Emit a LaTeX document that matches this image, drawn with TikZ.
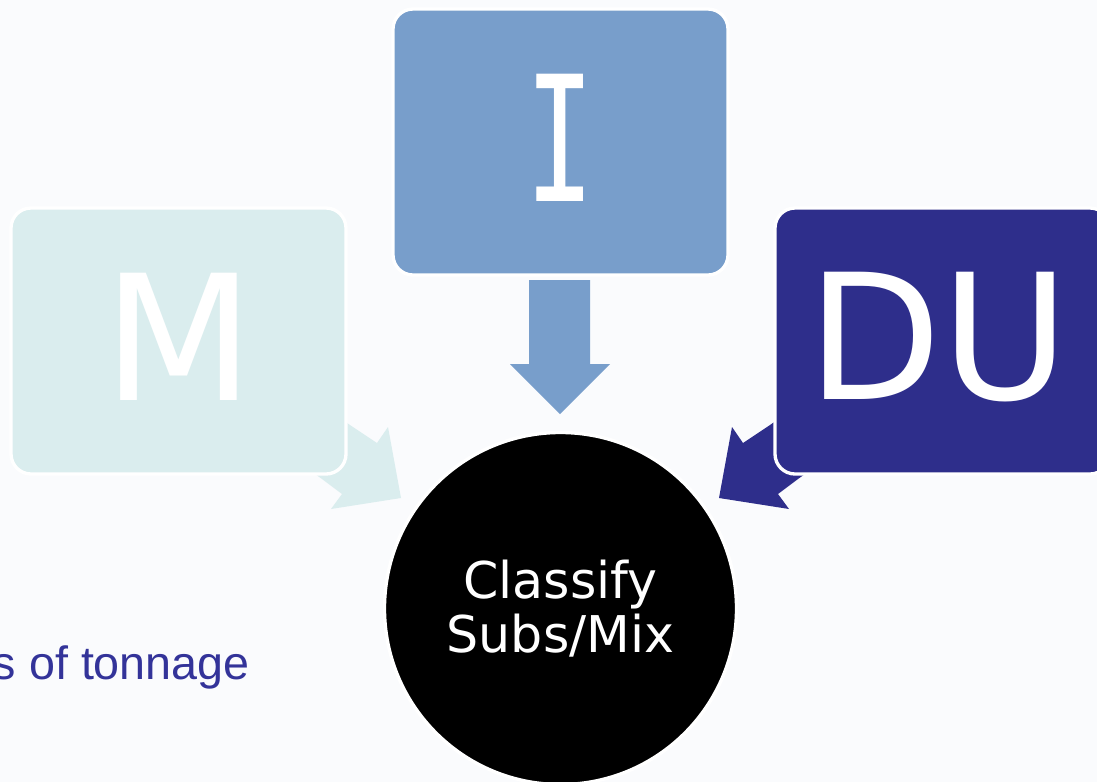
\documentclass[tikz,border=0pt]{standalone}
\usepackage{fontspec}
\usepackage{graphicx}
\setmainfont{DejaVu Sans}
\newfontfamily\arialf{Liberation Sans}
\newfontfamily\monof{DejaVu Sans Mono}
\definecolor{bgc}{RGB}{250,251,253}
\definecolor{mcol}{RGB}{218,237,238}
\definecolor{icol}{RGB}{120,158,203}
\definecolor{ducol}{RGB}{46,46,139}
\definecolor{txtblue}{RGB}{51,51,153}
\tikzset{
  letterbox/.style={draw=white, line width=2.5pt, rounded corners=15pt, inner sep=0pt},
  bigletter/.style={text=white, inner sep=0pt, font=\fontsize{131pt}{140pt}\selectfont},
}
\begin{document}
\begin{tikzpicture}[x=0.75pt, y=-0.75pt]
\useasboundingbox (0,0) rectangle (1097,782);
\fill[bgc] (0,0) rectangle (1097,782);

% block arrows (drawn before boxes so boxes overlap their tails)
\fill[mcol] (301,390) -- (350,425) -- (377,443) -- (388,427) -- (401,498) -- (331,509) -- (342,494) -- (322,479) -- (273,444) -- cycle;
\fill[ducol] (819,390) -- (770,425) -- (743,443) -- (732,427) -- (719,498) -- (789,509) -- (778,494) -- (798,479) -- (847,444) -- cycle;
\fill[icol] (529,280) -- (590,280) -- (590,364) -- (610,364) -- (560,414) -- (510,364) -- (529,364) -- cycle;

% boxes
\draw[letterbox, fill=mcol] (11,208) rectangle (346,474);
\draw[letterbox, fill=icol] (393,9) rectangle (728,275);
\draw[letterbox, fill=ducol] (775,208) rectangle (1110,474);

\node[bigletter] (M) at (179,337) {M};
\node[bigletter] (I) at (560,137.5) {\monof\scalebox{0.66}[1]{I}};
\node[bigletter] (DU) at (938.5,337) {DU};

% circle
\node[circle, fill=black, draw=white, line width=2.5pt, minimum size=352*0.75pt, inner sep=0pt,
      text=white, align=center, font=\fontsize{38pt}{40.5pt}\selectfont] (C) at (560.5,608.5) {Classify\\Subs/Mix};

% partial text (cut off at the left edge, as in the reference)
\node[anchor=base east, inner sep=0pt, text=txtblue, font=\arialf\fontsize{35pt}{40pt}\selectfont] (T) at (250,679) {s of tonnage};
\end{tikzpicture}
\end{document}
